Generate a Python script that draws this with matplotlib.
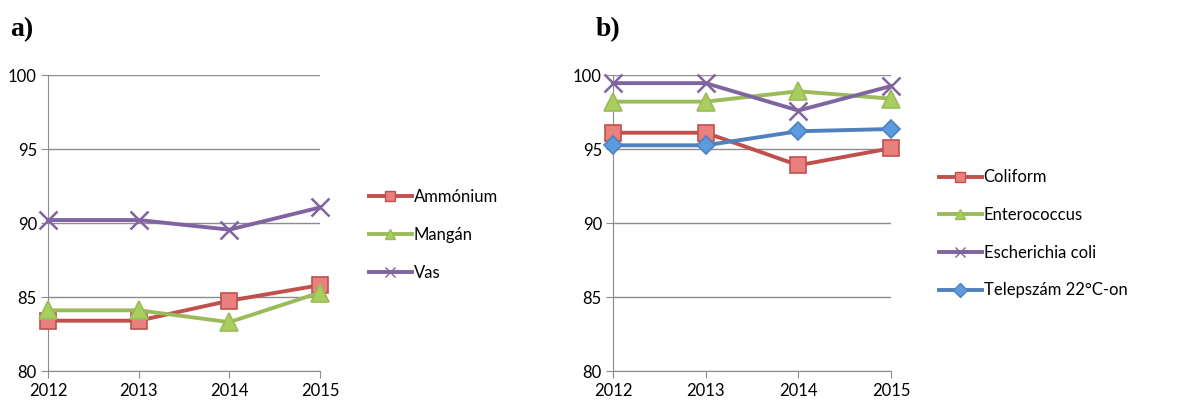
import matplotlib.pyplot as plt

years = [2012, 2013, 2014, 2015]

# a) chemical parameters
ammonium = [83.4, 83.4, 84.75, 85.8]
mangan = [84.1, 84.1, 83.3, 85.3]
vas = [90.2, 90.2, 89.55, 91.05]

# b) microbiological parameters
coliform = [96.1, 96.1, 93.9, 95.05]
enterococcus = [98.2, 98.2, 98.9, 98.4]
e_coli = [99.45, 99.45, 97.6, 99.25]
telepszam = [95.25, 95.25, 96.2, 96.35]

RED, RED_FILL = '#C0504D', '#E8807D'
GREEN, GREEN_FILL = '#9BBB59', '#A8CF5E'
PURPLE = '#8064A2'
BLUE, BLUE_FILL = '#4F81BD', '#5B9BE0'

plt.rcParams['font.family'] = ['Lato', 'DejaVu Sans']

fig = plt.figure(figsize=(11.86, 4.0), dpi=100)
ax_a = fig.add_axes([48 / 1186, 29 / 400, 272 / 1186, 296 / 400])
ax_b = fig.add_axes([613 / 1186, 29 / 400, 278 / 1186, 296 / 400])


def style_axes(ax):
    ax.set_xlim(2012, 2015)
    ax.set_ylim(80, 100)
    ax.set_xticks(years)
    ax.set_yticks([80, 85, 90, 95, 100])
    ax.grid(axis='y', color='#8c8c8c', lw=1)
    ax.set_axisbelow(True)
    for side in ['top', 'right']:
        ax.spines[side].set_visible(False)
    for side in ['left', 'bottom']:
        ax.spines[side].set_color('#8c8c8c')
    ax.tick_params(axis='both', colors='#8c8c8c', length=5, labelsize=12,
                   labelcolor='black', pad=3)
    ax.tick_params(axis='x', pad=4)


def draw(ax, y, label, color, marker, face, ms, mew=1.2):
    ax.plot(years, y, color=color, lw=2.8, marker=marker, markersize=ms,
            markerfacecolor=face, markeredgecolor=color, markeredgewidth=mew,
            label=label, clip_on=False, zorder=3)


style_axes(ax_a)
draw(ax_a, ammonium, 'Ammónium', RED, 's', RED_FILL, 11.5)
draw(ax_a, mangan, 'Mangán', GREEN, '^', GREEN_FILL, 12.5)
draw(ax_a, vas, 'Vas', PURPLE, 'x', PURPLE, 13, 1.8)

style_axes(ax_b)
draw(ax_b, coliform, 'Coliform', RED, 's', RED_FILL, 11.5)
draw(ax_b, enterococcus, 'Enterococcus', GREEN, '^', GREEN_FILL, 12.5)
draw(ax_b, e_coli, 'Escherichia coli', PURPLE, 'x', PURPLE, 13, 1.8)
draw(ax_b, telepszam, 'Telepszám 22°C-on', BLUE, 'D', BLUE_FILL, 9.5)

legends = [(ax_a, 362, 235), (ax_b, 932, 234)]
for ax, x0, yc in legends:
    leg = ax.legend(loc='center left', bbox_to_anchor=(x0 / 1186, 1 - yc / 400),
                    bbox_transform=fig.transFigure, frameon=False,
                    fontsize=12, handlelength=2.6, handletextpad=0.1,
                    labelspacing=1.3, borderaxespad=0)
    for h in leg.legend_handles:
        h.set_markersize(7)
        h.set_markeredgewidth(1.0)

fig.text(10 / 1186, 1 - 30 / 400, 'a)', family='Liberation Serif',
         fontweight='bold', fontsize=20, va='center')
fig.text(596 / 1186, 1 - 30 / 400, 'b)', family='Liberation Serif',
         fontweight='bold', fontsize=20, va='center')

fig.savefig('out.png', dpi=100)
